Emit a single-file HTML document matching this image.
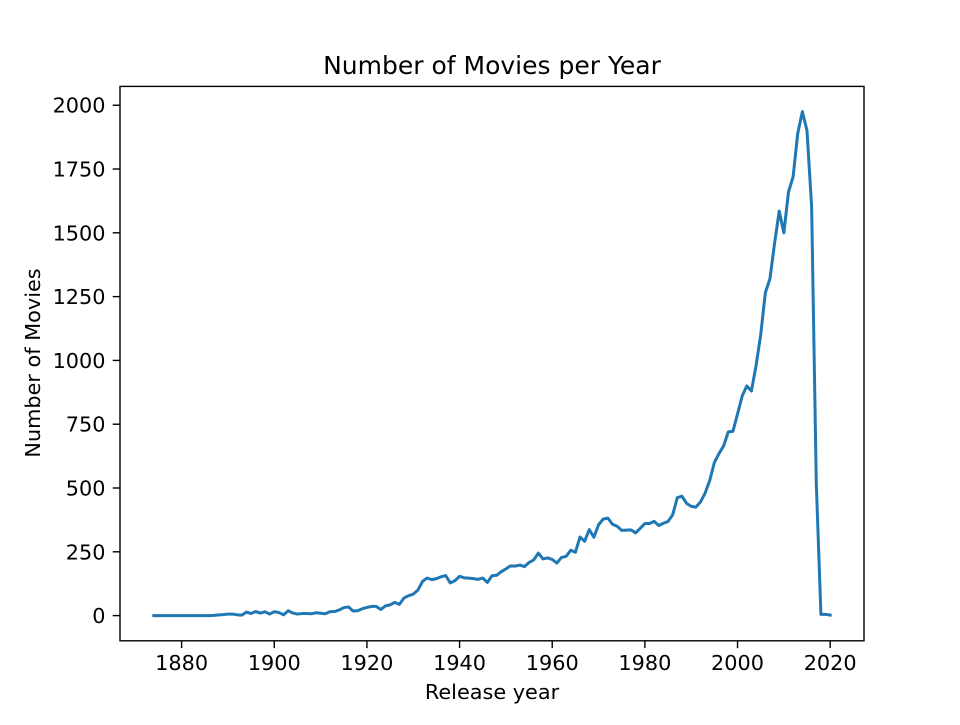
<!DOCTYPE html>
<html><head><meta charset="utf-8"><style>
body{margin:0;background:#fff}
svg text{font-family:"DejaVu Sans","Liberation Sans",sans-serif;fill:#000}
</style></head><body>
<svg id="chart" width="960" height="720" xmlns="http://www.w3.org/2000/svg">
<rect width="960" height="720" fill="#fff"/>
<text x="492" y="74" font-size="25" text-anchor="middle">Number of Movies per Year</text>
<text x="492" y="699" font-size="20.8" text-anchor="middle">Release year</text>
<text transform="translate(40,363) rotate(-90)" font-size="20.8" text-anchor="middle">Number of Movies</text>
<g id="xt"></g>
<g id="yt"></g>
<path id="line" fill="none" stroke="#1f77b4" stroke-width="3" stroke-linejoin="round" stroke-linecap="square"/>
<rect x="120" y="86.4" width="744" height="554.4" fill="none" stroke="#000" stroke-width="1.4"/>
</svg>
<script>
const startYear = 1874;
const counts = [0,0,0,0,0,0,0,0,0,0,0,0,0,
1,3,4,6,6,3,2,14,8,16,10,15,6,15,12,3,19,10,6,8,8,7,11,9,7,15,16,22,31,34,18,19,27,32,36,36,24,38,42,52,44,69,78,84,100,134,147,141,145,152,157,128,137,154,148,147,145,142,147,130,156,158,172,183,195,194,198,192,208,218,245,222,226,220,206,228,232,256,248,308,291,337,307,356,378,382,358,350,334,335,336,324,342,361,361,369,353,362,369,395,462,468,440,428,425,445,480,530,600,635,665,720,722,790,860,900,880,980,1100,1265,1320,1460,1585,1500,1660,1720,1890,1975,1900,1600,520,5,5,2];
const xTicks = [1880,1900,1920,1940,1960,1980,2000,2020];
const yTicks = [0,250,500,750,1000,1250,1500,1750,2000];
const NS="http://www.w3.org/2000/svg";
const x0=120,x1=864,y0=640.8,y1=86.4;
const years=counts.map((c,i)=>startYear+i);
const xmin=years[0],xmax=years[years.length-1],xpad=(xmax-xmin)*0.05;
const ymin=Math.min(...counts),ymax=Math.max(...counts),ypad=(ymax-ymin)*0.05;
const X=v=>x0+(v-(xmin-xpad))/((xmax+xpad)-(xmin-xpad))*(x1-x0);
const Y=v=>y0-(v-(ymin-ypad))/((ymax+ypad)-(ymin-ypad))*(y0-y1);
document.getElementById('line').setAttribute('d',counts.map((c,i)=>(i?'L':'M')+X(years[i]).toFixed(2)+','+Y(c).toFixed(2)).join(''));
const xt=document.getElementById('xt'),yt=document.getElementById('yt');
xTicks.forEach(t=>{
 const l=document.createElementNS(NS,'line');
 
 
 l.setAttribute('x1',X(t));l.setAttribute('x2',X(t));l.setAttribute('y1',y0);l.setAttribute('y2',y0+7.3);l.setAttribute('stroke','#000');l.setAttribute('stroke-width','1.4');
 xt.appendChild(l);
 const s=document.createElementNS(NS,'text');
 
 
 s.setAttribute('x',X(t));s.setAttribute('y',670);s.setAttribute('font-size','20.8');s.setAttribute('text-anchor','middle');
 s.textContent=t;xt.appendChild(s);
});
yTicks.forEach(t=>{
 const l=document.createElementNS(NS,'line');
 
 
 l.setAttribute('x1',x0-7.3);l.setAttribute('x2',x0);l.setAttribute('y1',Y(t));l.setAttribute('y2',Y(t));l.setAttribute('stroke','#000');l.setAttribute('stroke-width','1.4');
 yt.appendChild(l);
 const s=document.createElementNS(NS,'text');
 
 
 s.setAttribute('x',105.5);s.setAttribute('y',Y(t)+7.5);s.setAttribute('font-size','20.8');s.setAttribute('text-anchor','end');
 s.textContent=t;yt.appendChild(s);
});
</script>
</body></html>
